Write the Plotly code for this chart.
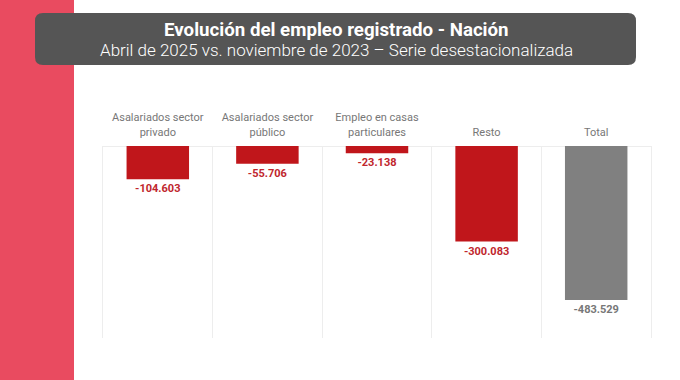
import plotly.graph_objects as go

categories = ["Asalariados sector<br>privado", "Asalariados sector<br>público",
              "Empleo en casas<br>particulares", "Resto", "Total"]
values = [-104603, -55706, -23138, -300083, -483529]
bar_colors = ["#C0161B", "#C0161B", "#C0161B", "#C0161B", "#808080"]
label_colors = ["#C0262D", "#C0262D", "#C0262D", "#C0262D", "#777777"]

title_text = "Evolución del empleo registrado - Nación"
subtitle_text = "Abril de 2025 vs. noviembre de 2023 – Serie desestacionalizada"

W, H = 680, 380
L, R, T, B = 103, 29, 146, 42
pw, ph = W - L - R, H - T - B

def px2x(px):
    return (px - L) / pw

def px2y(py):
    return (H - B - py) / ph

def rounded_rect(x0, y0, x1, y1, r):
    return (f"M {px2x(x0 + r)} {px2y(y0)} L {px2x(x1 - r)} {px2y(y0)} "
            f"Q {px2x(x1)} {px2y(y0)} {px2x(x1)} {px2y(y0 + r)} "
            f"L {px2x(x1)} {px2y(y1 - r)} "
            f"Q {px2x(x1)} {px2y(y1)} {px2x(x1 - r)} {px2y(y1)} "
            f"L {px2x(x0 + r)} {px2y(y1)} "
            f"Q {px2x(x0)} {px2y(y1)} {px2x(x0)} {px2y(y1 - r)} "
            f"L {px2x(x0)} {px2y(y0 + r)} "
            f"Q {px2x(x0)} {px2y(y0)} {px2x(x0 + r)} {px2y(y0)} Z")

fig = go.Figure(go.Bar(
    x=categories, y=values,
    marker=dict(color=bar_colors, line=dict(width=0)),
    texttemplate="%{y:,}", textposition="outside",
    textfont=dict(color=label_colors, size=11, family="Roboto", weight="bold"),
    cliponaxis=False,
))

fig.update_layout(
    width=W, height=H,
    margin=dict(l=L, r=R, t=T, b=B),
    paper_bgcolor="white", plot_bgcolor="white",
    separators=",.",
    showlegend=False,
    bargap=0.43,
    font=dict(family="Roboto"),
    xaxis=dict(side="top", type="category", tickson="boundaries", showgrid=True,
               gridcolor="#EDEDED", gridwidth=1, ticks="", range=[-0.5, 4.5],
               ticklabelstandoff=7,
               tickfont=dict(size=11, color="#777777"), showline=False),
    yaxis=dict(range=[-603000, 0], showticklabels=False, showgrid=False,
               zeroline=True, zerolinecolor="#EDEDED", zerolinewidth=1,
               showline=True, mirror=True, linecolor="#EDEDED", linewidth=1),
    shapes=[
        dict(type="rect", xref="paper", yref="paper", x0=px2x(0), x1=px2x(74),
             y0=px2y(380), y1=px2y(0), fillcolor="#E94B60", line=dict(width=0), layer="below"),
        dict(type="path", xref="paper", yref="paper", path=rounded_rect(35, 13, 636, 65, 8),
             fillcolor="#555555", line=dict(width=0)),
    ],
    annotations=[
        dict(text="<b>" + title_text + "</b>", xref="paper", yref="paper",
             x=px2x(336), y=px2y(30), xanchor="center", yanchor="middle", showarrow=False,
             font=dict(size=18.7, color="white", family="Roboto")),
        dict(text=subtitle_text, xref="paper", yref="paper",
             x=px2x(336), y=px2y(50), xanchor="center", yanchor="middle", showarrow=False,
             font=dict(size=17, color="white", family="Roboto", weight=300)),
    ],
)

fig.write_html("out.html", config={"displayModeBar": False},
               post_script="document.body.style.margin='0';")
